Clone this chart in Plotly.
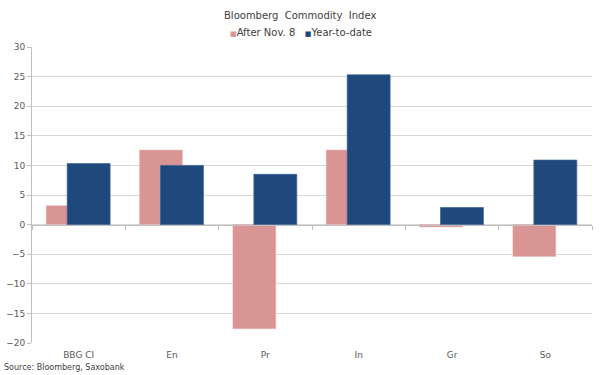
import plotly.graph_objects as go

categories = ["BBG CI", "En", "Pr", "In", "Gr", "So"]
after_nov8 = [3.2, 12.6, -17.6, 12.6, -0.4, -5.4]
year_to_date = [10.3, 10.0, 8.5, 25.3, 2.9, 10.9]
y_ticks = list(range(-20, 35, 5))

PINK = "#D99594"
BLUE = "#1F497D"
TXT = "#595959"
FONT = "DejaVu Sans"

W, H = 600, 375
ML, MR, MT, MB = 32, 8, 47, 32
plot_w = W - ML - MR
plot_h = H - MT - MB

fig = go.Figure()
fig.add_trace(go.Bar(
    x=categories, y=after_nov8, name="After Nov. 8",
    marker=dict(color=PINK, line=dict(color="#E6B9B8", width=0.5)),
    offset=-0.348, width=0.46,
))
fig.add_trace(go.Bar(
    x=categories, y=year_to_date, name="Year-to-date",
    marker=dict(color=BLUE, line=dict(color="#3A6396", width=0.7)),
    offset=-0.123, width=0.46,
))
# invisible trace to carry the zero-level category axis with boundary ticks
fig.add_trace(go.Scatter(
    x=categories, y=[0] * len(categories), xaxis="x2", mode="markers",
    marker=dict(opacity=0), hoverinfo="skip", showlegend=False,
))

ymin, ymax = -20, 30
zero_pos = (0 - ymin) / (ymax - ymin)

fig.update_layout(
    width=W, height=H,
    barmode="overlay",
    showlegend=False,
    paper_bgcolor="white", plot_bgcolor="white",
    margin=dict(l=ML, r=MR, t=MT, b=MB, autoexpand=False),
    font=dict(family=FONT, size=9, color=TXT),
    xaxis=dict(
        type="category", categoryarray=categories, range=[-0.5, 5.5],
        showgrid=False, showline=False, ticks="", zeroline=False,
        tickfont=dict(size=9, color=TXT), automargin=False,
        ticklabelstandoff=5,
    ),
    xaxis2=dict(
        type="category", categoryarray=categories, range=[-0.5, 5.5],
        overlaying="x", anchor="free", position=zero_pos, side="bottom",
        showticklabels=False, showgrid=False, showline=True,
        linecolor="#BFBFBF", linewidth=1, automargin=False,
        ticks="outside", tickson="boundaries", ticklen=4, tickcolor="#BFBFBF",
    ),
    yaxis=dict(
        range=[ymin, ymax], tickvals=y_ticks,
        showgrid=True, gridcolor="#D9D9D9", gridwidth=1,
        showline=True, linecolor="#BFBFBF", linewidth=1,
        ticks="outside", ticklen=4, tickcolor="#BFBFBF",
        zeroline=False, tickfont=dict(size=9, color=TXT), automargin=False,
    ),
    annotations=[
        dict(text="Bloomberg  Commodity  Index",
             x=(300 - ML) / plot_w, xref="paper", xanchor="center",
             y=1 + (MT - 15) / plot_h, yref="paper", yanchor="middle",
             showarrow=False, font=dict(size=10, color="#404040")),
        dict(text=f"<span style='color:{PINK};font-size:7px'>■</span>After Nov. 8   "
                  f"<span style='color:{BLUE};font-size:7px'>■</span>Year-to-date",
             x=(301 - ML) / plot_w, xref="paper", xanchor="center",
             y=1 + (MT - 33) / plot_h, yref="paper", yanchor="middle",
             showarrow=False, font=dict(size=10, color="#404040")),
        dict(text="Source: Bloomberg, Saxobank",
             x=(2 - ML) / plot_w, xref="paper", xanchor="left",
             y=-(367 - (H - MB)) / plot_h, yref="paper", yanchor="middle",
             showarrow=False, font=dict(size=8, color="#404040")),
    ],
)

fig.write_html(
    "out.html",
    config={"displayModeBar": False},
    post_script="document.body.style.margin='0';document.body.style.padding='0';",
)
